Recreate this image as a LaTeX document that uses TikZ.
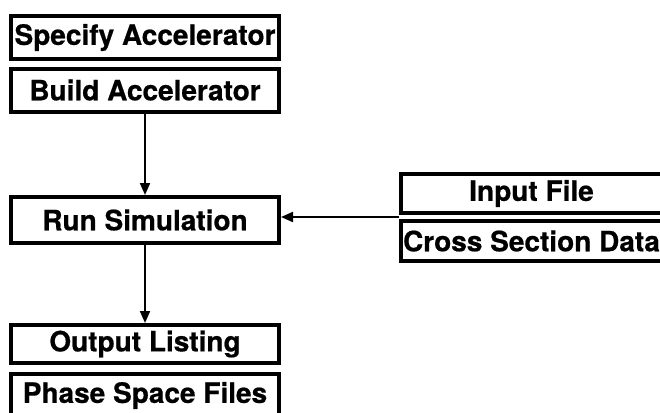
\documentclass[tikz,border=0pt]{standalone}
\usepackage{fontspec}
\setmainfont{TeX Gyre Heros}[BoldFeatures={FakeBold=0.6}]
\usetikzlibrary{calc}
\usetikzlibrary{arrows.meta}

\begin{document}
\begin{tikzpicture}[x=1pt,y=1pt]
  \tikzset{myedge/.style={->, line width=2pt, >={Triangle[length=12pt,width=10pt]}}};
  \tikzset{mybox/.style={rectangle, draw=black, line width=4pt, inner sep=0pt, minimum width=268pt, minimum height=43pt, font=\fontsize{28}{32}\selectfont\bfseries}};
  \clip (0,0) rectangle (660,-412);
  \node[mybox] (spec) at (145,-37.5) {Specify Accelerator};
  \node[mybox] (build) at (145,-90) {Build Accelerator};
  \node[mybox, minimum height=46pt] (run) at (145,-220) {Run Simulation};
  \node[mybox, minimum height=38pt] (out) at (145,-344) {Output Listing};
  \node[mybox] (phase) at (145,-395.5) {Phase Space Files};
  \node[mybox, minimum width=261pt, minimum height=39pt] (inp) at (531.5,-193.5) {Input File};
  \node[mybox, minimum width=261pt, minimum height=40pt] (xsec) at (531.5,-241) {Cross Section Data};

  \coordinate (J) at ($(inp.south west)!.5!(xsec.north west)$);
  \draw [myedge] (build) -- (run);
  \draw [myedge] (run) -- (out);
  \draw [myedge] (J) -- (run.east |- J);
\end{tikzpicture}
\end{document}
